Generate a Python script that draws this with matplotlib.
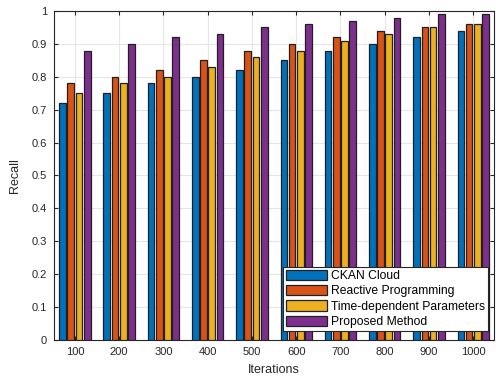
import matplotlib
matplotlib.use("Agg")
import matplotlib.pyplot as plt
import numpy as np

plt.rcParams['font.family'] = ['Liberation Sans', 'DejaVu Sans']

iterations = ['100', '200', '300', '400', '500', '600', '700', '800', '900', '1000']
series_names = ['CKAN Cloud', 'Reactive Programming', 'Time-dependent Parameters', 'Proposed Method']
ckan = [0.72, 0.75, 0.78, 0.80, 0.82, 0.85, 0.88, 0.90, 0.92, 0.94]
reactive = [0.78, 0.80, 0.82, 0.85, 0.88, 0.90, 0.92, 0.94, 0.95, 0.96]
timedep = [0.75, 0.78, 0.80, 0.83, 0.86, 0.88, 0.91, 0.93, 0.95, 0.96]
proposed = [0.88, 0.90, 0.92, 0.93, 0.95, 0.96, 0.97, 0.98, 0.99, 0.99]
colors = ['#0072BD', '#D95319', '#EDB120', '#7E2F8E']

fig = plt.figure(figsize=(4.96, 3.81), dpi=100)
ax = fig.add_axes([0.109, 0.108, 0.887, 0.863])

x = np.arange(1, len(iterations) + 1)
w = 0.15
offsets = [-0.279, -0.093, 0.093, 0.279]
for vals, off, c, name in zip([ckan, reactive, timedep, proposed], offsets, colors, series_names):
    ax.bar(x + off, vals, width=w, color=c, edgecolor='#202020', linewidth=0.9, label=name, zorder=3)

ax.set_xlim(0.53, 10.47)
ax.set_ylim(0, 1)
ax.set_xticks(x)
ax.set_xticklabels(iterations)
ax.set_yticks(np.arange(0, 1.01, 0.1))
ax.set_yticklabels(['0', '0.1', '0.2', '0.3', '0.4', '0.5', '0.6', '0.7', '0.8', '0.9', '1'])
ax.tick_params(direction='in', length=3, labelsize=8, colors='#262626', top=True, right=True, pad=5)
ax.grid(True, color='#e6e6e6', linewidth=0.8, zorder=0)
ax.set_axisbelow(True)
for s in ax.spines.values():
    s.set_color('#262626')
    s.set_linewidth(0.8)
ax.set_xlabel('Iterations', fontsize=9, color='#262626', labelpad=5)
ax.set_ylabel('Recall', fontsize=9, color='#262626', labelpad=8)

leg = ax.legend(loc='lower right', bbox_to_anchor=(0.984, 0.131), bbox_transform=fig.transFigure,
                fontsize=8.7, frameon=True, fancybox=False,
                edgecolor='#262626', framealpha=1, handlelength=3.4, handleheight=0.95,
                borderaxespad=0, labelspacing=0.25, handletextpad=0.3, borderpad=0.25)
leg.get_frame().set_linewidth(0.8)

fig.savefig('out.png', dpi=100)
